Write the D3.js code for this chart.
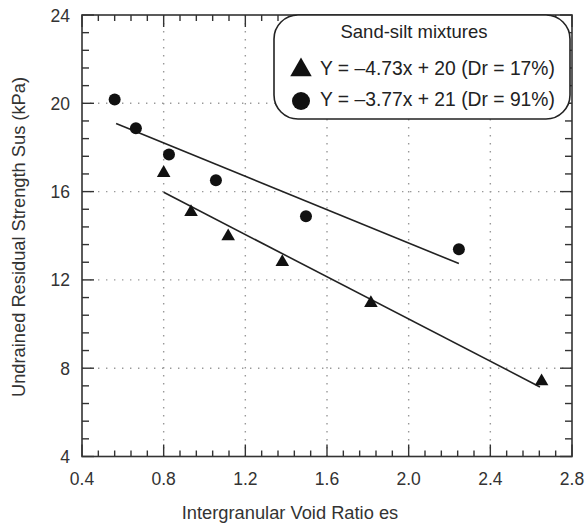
<!doctype html>
<html lang="en">
<head>
    <meta charset="utf-8">
    <title>Undrained residual strength vs void ratio</title>
    <script src="https://d3js.org/d3.v7.min.js"></script>
    <style>
        body { margin: 0; padding: 0; background: #fff; }
        svg { display: block; font-family: 'Liberation Sans', Arial, sans-serif; }
        .tick-label { fill: #333; font-size: 17.5px; }
        .axis-title { fill: #333; font-size: 18.3px; }
        .legend-text { fill: #222; font-size: 18.5px; }
    </style>
</head>
<body>
<div class="home"></div>
<script>
    // data
    const triX = [0.80, 0.934, 1.116, 1.381, 1.815, 2.651];
    const triY = [16.89, 15.12, 14.02, 12.85, 11.0, 7.45];
    const circX = [0.56, 0.664, 0.826, 1.056, 1.497, 2.246];
    const circY = [20.17, 18.87, 17.68, 16.51, 14.88, 13.39];
    // fitted lines as drawn (end points)
    const triLine = [[0.80, 15.97], [2.643, 7.15]];
    const circLine = [[0.567, 19.08], [2.246, 12.74]];
    const xTicks = [0.4, 0.8, 1.2, 1.6, 2.0, 2.4, 2.8];
    const yTicks = [4, 8, 12, 16, 20, 24];
    const legendTitle = "Sand-silt mixtures";
    const legendItems = ["Y = \u20134.73x + 20 (Dr = 17%)", "Y = \u20133.77x + 21 (Dr = 91%)"];

    const width = 586, height = 525;
    const pLeft = 82, pRight = 572, pTop = 15, pBottom = 456.5;

    const svg = d3.select(".home").append("svg")
        .attr("width", width)
        .attr("height", height);

    const x = d3.scaleLinear().domain([0.4, 2.8]).range([pLeft, pRight]);
    const y = d3.scaleLinear().domain([4, 24]).range([pBottom, pTop]);

    const minorX = d3.range(0.4, 2.8001, 0.08);
    const minorY = d3.range(4, 24.001, 0.8);

    // dotted grid
    const grid = svg.append("g");
    grid.selectAll(".gx").data(xTicks.slice(1, -1)).enter().append("line")
        .attr("x1", d => x(d)).attr("x2", d => x(d))
        .attr("y1", pTop).attr("y2", pBottom)
        .style("stroke", "#999").style("stroke-width", 1.4)
        .style("stroke-dasharray", "1.4,6.6");
    grid.selectAll(".gy").data(yTicks.slice(1, -1)).enter().append("line")
        .attr("y1", d => y(d)).attr("y2", d => y(d))
        .attr("x1", pLeft).attr("x2", pRight)
        .style("stroke", "#999").style("stroke-width", 1.4)
        .style("stroke-dasharray", "1.4,6.6");

    // ticks on all four sides, pointing in
    const ticks = svg.append("g").style("stroke", "#333").style("stroke-width", 1.4);
    function isMajor(v, step) { return Math.abs(v / step - Math.round(v / step)) < 1e-6; }
    minorX.forEach(v => {
        const len = isMajor(v, 0.4) ? 12 : 6;
        ticks.append("line").attr("x1", x(v)).attr("x2", x(v)).attr("y1", pBottom).attr("y2", pBottom - len);
        ticks.append("line").attr("x1", x(v)).attr("x2", x(v)).attr("y1", pTop).attr("y2", pTop + len);
    });
    minorY.forEach(v => {
        const len = isMajor(v, 4) ? 12 : 7;
        ticks.append("line").attr("y1", y(v)).attr("y2", y(v)).attr("x1", pLeft).attr("x2", pLeft + len);
        ticks.append("line").attr("y1", y(v)).attr("y2", y(v)).attr("x1", pRight).attr("x2", pRight - len);
    });

    // frame
    svg.append("rect")
        .attr("x", pLeft).attr("y", pTop)
        .attr("width", pRight - pLeft).attr("height", pBottom - pTop)
        .style("fill", "none").style("stroke", "#333").style("stroke-width", 1.6);

    // tick labels
    svg.selectAll(".xl").data(xTicks).enter().append("text")
        .attr("class", "tick-label")
        .attr("x", d => x(d)).attr("y", pBottom + 28)
        .attr("text-anchor", "middle")
        .text(d => d.toFixed(1));
    svg.selectAll(".yl").data(yTicks).enter().append("text")
        .attr("class", "tick-label")
        .attr("x", pLeft - 12).attr("y", d => y(d) + 6.5)
        .attr("text-anchor", "end")
        .text(d => d);

    // axis titles
    svg.append("text").attr("class", "axis-title")
        .attr("x", 290).attr("y", 519)
        .attr("text-anchor", "middle")
        .text("Intergranular Void Ratio es");
    svg.append("text").attr("class", "axis-title")
        .attr("transform", "translate(25,237) rotate(-90)")
        .attr("text-anchor", "middle")
        .text("Undrained Residual Strength Sus (kPa)");

    // regression lines
    const line = d3.line().x(d => x(d[0])).y(d => y(d[1]));
    [triLine, circLine].forEach(l => {
        svg.append("path").attr("d", line(l))
            .style("fill", "none").style("stroke", "#222").style("stroke-width", 1.6);
    });

    // markers
    const triSym = d3.symbol().type(d3.symbolTriangle).size(80);
    svg.selectAll(".tri").data(d3.zip(triX, triY)).enter().append("path")
        .attr("d", triSym)
        .attr("transform", d => "translate(" + x(d[0]) + "," + (y(d[1]) + 1) + ")")
        .style("fill", "#111");
    svg.selectAll(".circ").data(d3.zip(circX, circY)).enter().append("circle")
        .attr("cx", d => x(d[0])).attr("cy", d => y(d[1]))
        .attr("r", 6)
        .style("fill", "#111");

    // legend
    const lg = svg.append("g");
    lg.append("rect")
        .attr("x", 274).attr("y", 15)
        .attr("width", 296).attr("height", 104)
        .attr("rx", 24).attr("ry", 24)
        .style("fill", "#fff").style("stroke", "#222").style("stroke-width", 1.6);
    lg.append("text").attr("class", "legend-text")
        .attr("x", 414).attr("y", 38)
        .attr("text-anchor", "middle")
        .text(legendTitle);
    lg.append("path")
        .attr("d", d3.symbol().type(d3.symbolTriangle).size(200))
        .attr("transform", "translate(301,70)")
        .style("fill", "#111");
    lg.append("circle").attr("cx", 301).attr("cy", 101).attr("r", 9).style("fill", "#111");
    legendItems.forEach((t, i) => {
        lg.append("text").attr("class", "legend-text")
            .style("font-size", "19.3px")
            .attr("x", 320).attr("y", 75 + i * 31)
            .text(t);
    });
</script>
</body>
</html>
